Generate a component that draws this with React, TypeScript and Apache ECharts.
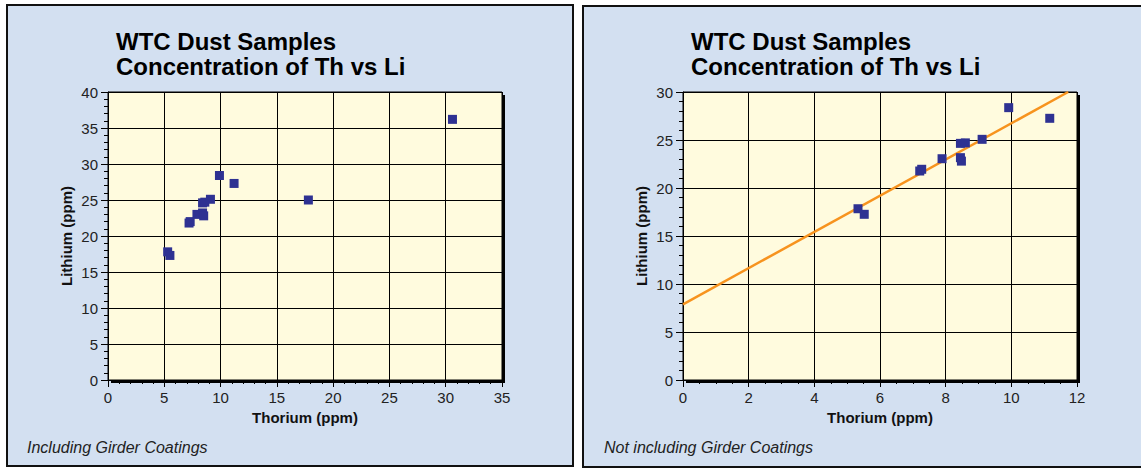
import React, { useEffect, useRef } from "react";
import * as echarts from "echarts";

// Left panel: including girder coatings (Thorium ppm, Lithium ppm)
const thoriumAll = [5.3, 5.5, 7.2, 7.3, 7.9, 8.4, 8.6, 8.4, 8.5, 9.1, 9.9, 11.2, 17.8, 30.6];
const lithiumAll = [17.8, 17.3, 21.8, 22.0, 23.0, 24.6, 24.7, 23.2, 22.8, 25.1, 28.4, 27.3, 25.0, 36.2];

// Right panel: not including girder coatings
const thoriumSub = [5.33, 5.52, 7.21, 7.27, 7.89, 8.45, 8.6, 8.45, 8.48, 9.11, 9.92, 11.17];
const lithiumSub = [17.84, 17.26, 21.77, 21.95, 23.05, 24.65, 24.7, 23.16, 22.8, 25.07, 28.37, 27.26];

// Fitted trend line end points (Thorium, Lithium)
const trendX = [0, 11.73];
const trendY = [7.88, 30];

const xTicksLeft = { min: 0, max: 35, interval: 5 };
const yTicksLeft = { min: 0, max: 40, interval: 5 };
const xTicksRight = { min: 0, max: 12, interval: 2 };
const yTicksRight = { min: 0, max: 30, interval: 5 };

const titleLines = ["WTC Dust Samples", "Concentration of Th vs Li"];
const xName = "Thorium (ppm)";
const yName = "Lithium (ppm)";
const notes = ["Including Girder Coatings", "Not including Girder Coatings"];

const FONT = "'Liberation Sans', Arial, Helvetica, sans-serif";
const PANEL_BG = "#d3e0f1";
const PLOT_BG = "#fffbde";
const MARK = "#2e3192";
const LINE = "#f7931e";

const GRIDS = [
  { left: 108, top: 92, width: 394, height: 288 },
  { left: 683, top: 92, width: 394, height: 288 },
];
const PANELS = [
  { x: 7, y: 5, w: 566, h: 461, titleX: 116, noteX: 27 },
  { x: 583, y: 6, w: 570, h: 461, titleX: 691, noteX: 604 },
];

function xAxisCfg(idx: number, t: { min: number; max: number; interval: number }, minorSplit: number) {
  return {
    type: "value",
    gridIndex: idx,
    min: t.min,
    max: t.max,
    interval: t.interval,
    name: xName,
    nameLocation: "middle",
    nameGap: 30,
    nameTextStyle: { fontFamily: FONT, fontSize: 15, fontWeight: "bold", color: "#111" },
    axisLine: { show: true, onZero: false, lineStyle: { color: "#000", width: 1 } },
    axisTick: { show: true, length: 7, lineStyle: { color: "#000" } },
    minorTick: { show: true, splitNumber: minorSplit, length: 4, lineStyle: { color: "#000" } },
    axisLabel: { fontFamily: FONT, fontSize: 15, color: "#222", margin: 10 },
    splitLine: { show: true, lineStyle: { color: "#000", width: 1 } },
  };
}

function yAxisCfg(idx: number, t: { min: number; max: number; interval: number }, minorSplit: number) {
  return {
    type: "value",
    gridIndex: idx,
    min: t.min,
    max: t.max,
    interval: t.interval,
    name: yName,
    nameLocation: "middle",
    nameGap: 34,
    nameTextStyle: { fontFamily: FONT, fontSize: 15, fontWeight: "bold", color: "#111" },
    axisLine: { show: true, onZero: false, lineStyle: { color: "#000", width: 1 } },
    axisTick: { show: true, length: 7, lineStyle: { color: "#000" } },
    minorTick: { show: true, splitNumber: minorSplit, length: 4, lineStyle: { color: "#000" } },
    axisLabel: { fontFamily: FONT, fontSize: 15, color: "#222", margin: 10 },
    splitLine: { show: true, lineStyle: { color: "#000", width: 1 } },
  };
}

export default function App() {
  const ref = useRef<HTMLDivElement>(null);

  useEffect(() => {
    if (!ref.current) return;
    const chart = echarts.init(ref.current, null, { renderer: "svg" });

    const graphics: any[] = [];
    PANELS.forEach((p, i) => {
      graphics.push({
        type: "rect",
        z: -10,
        shape: { x: p.x, y: p.y, width: p.w, height: p.h },
        style: { fill: PANEL_BG, stroke: "#111", lineWidth: 2 },
        silent: true,
      });
      const g = GRIDS[i];
      graphics.push({
        type: "rect",
        z: -5,
        shape: { x: g.left + 3, y: g.top + 3, width: g.width, height: g.height },
        style: { fill: "#000" },
        silent: true,
      });
      titleLines.forEach((line, k) => {
        const ty = 29 + k * 25;
        graphics.push({
          type: "text",
          z: 6,
          x: p.titleX,
          y: ty,
          style: {
            text: line,
            fill: "#000000",
            font: `bold 24px ${FONT}`,
            textVerticalAlign: "top",
            textShadowColor: "#ffffff",
            textShadowBlur: 0,
            textShadowOffsetX: 2,
            textShadowOffsetY: 2,
          },
          silent: true,
        });
      });
      graphics.push({
        type: "text",
        z: 5,
        x: p.noteX,
        y: 439,
        style: { text: notes[i], fill: "#222", font: `italic 16px ${FONT}`, textVerticalAlign: "top" },
        silent: true,
      });
    });

    chart.setOption({
      animation: false,
      backgroundColor: "#ffffff",
      grid: GRIDS.map((g) => ({
        ...g,
        show: true,
        backgroundColor: PLOT_BG,
        borderColor: "#000",
        borderWidth: 1,
        containLabel: false,
      })),
      xAxis: [xAxisCfg(0, xTicksLeft, 5), xAxisCfg(1, xTicksRight, 4)],
      yAxis: [yAxisCfg(0, yTicksLeft, 5), yAxisCfg(1, yTicksRight, 5)],
      graphic: graphics,
      series: [
        {
          type: "scatter",
          xAxisIndex: 0,
          yAxisIndex: 0,
          symbol: "rect",
          symbolSize: 9,
          itemStyle: { color: MARK, opacity: 1 },
          data: thoriumAll.map((x, i) => [x, lithiumAll[i]]),
          z: 4,
        },
        {
          type: "line",
          xAxisIndex: 1,
          yAxisIndex: 1,
          showSymbol: false,
          symbol: "none",
          lineStyle: { color: LINE, width: 2.5 },
          data: trendX.map((x, i) => [x, trendY[i]]),
          z: 3,
          clip: true,
        },
        {
          type: "scatter",
          xAxisIndex: 1,
          yAxisIndex: 1,
          symbol: "rect",
          symbolSize: 9,
          itemStyle: { color: MARK, opacity: 1 },
          data: thoriumSub.map((x, i) => [x, lithiumSub[i]]),
          z: 4,
        },
      ],
    });

    return () => chart.dispose();
  }, []);

  return (
    <div
      ref={ref}
      style={{ position: "absolute", left: 0, top: 0, width: 1141, height: 469 }}
    />
  );
}
